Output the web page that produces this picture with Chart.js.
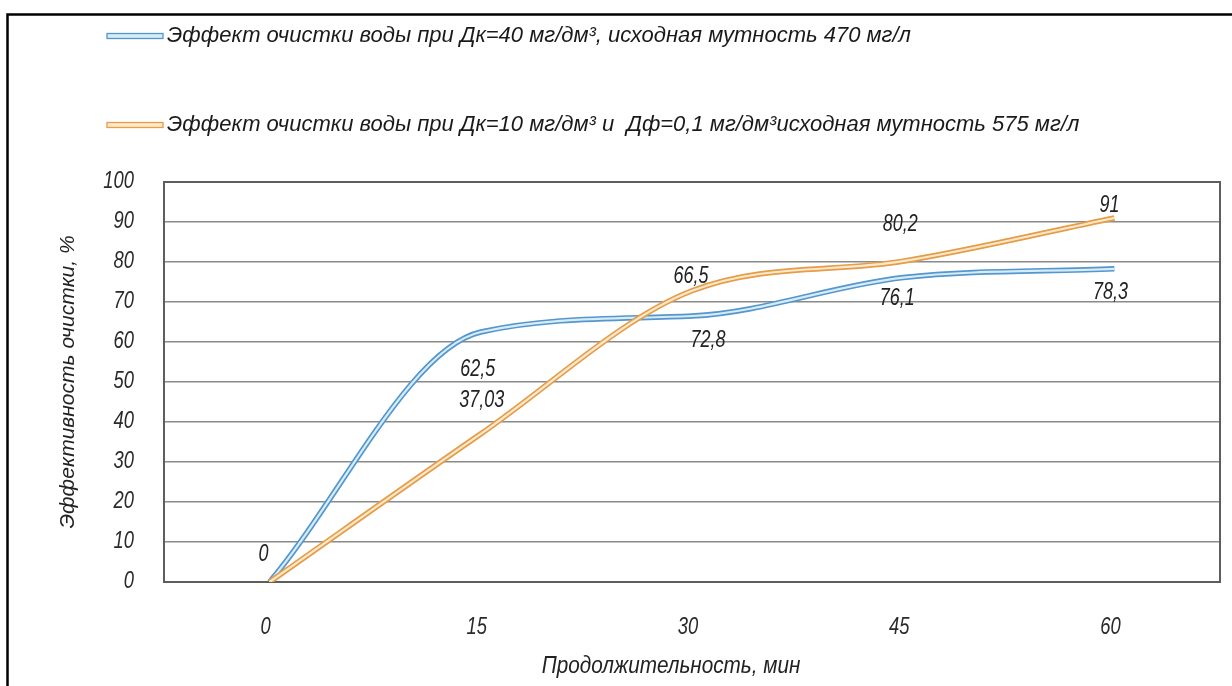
<!DOCTYPE html>
<html>
<head>
<meta charset="utf-8">
<script src="https://cdn.jsdelivr.net/npm/chart.js@4.4.1/dist/chart.umd.min.js"></script>
<style>
  html, body { margin: 0; padding: 0; background: #ffffff; }
  #wrap { width: 1232px; height: 686px; position: relative; }
</style>
</head>
<body>
<div id="wrap"><canvas id="chart" width="1232" height="686"></canvas></div>
<script>
// Duration of treatment, minutes (x categories)
const minutes = ['0', '15', '30', '45', '60'];
// Purification effect, % — coagulant only (Дк=40 мг/дм³)
const coagulantOnly = [0, 62.5, 66.5, 76.1, 78.3];
// Purification effect, % — coagulant + flocculant (Дк=10, Дф=0,1 мг/дм³)
const coagulantFlocculant = [0, 37.03, 72.8, 80.2, 91];
// y-axis range and step
const yMin = 0;
const yMax = 100;
const yTickStep = 10;
// Series names and axis titles
const seriesNames = [
  'Эффект очистки воды при Дк=40 мг/дм³, исходная мутность 470 мг/л',
  'Эффект очистки воды при Дк=10 мг/дм³ и  Дф=0,1 мг/дм³исходная мутность 575 мг/л'
];
const xTitle = 'Продолжительность, мин';
const yTitle = 'Эффективность очистки, %';

// ---- styling ----
const FONT = "'Liberation Sans', Arial, sans-serif";
const TEXT_COLOR = '#222222';
const seriesStyle = [
  { edge: '#5597cc', core: '#d6ecf8' },
  { edge: '#e49d48', core: '#fde8cc' }
];
// value-label placement relative to each point, px (null = no label)
const labelOffsets = [
  [[-6, -27], [-3, 38], [-1, -39], [-6, 21], [-4, 24]],
  [null, [1, -33], [16, 50], [-3, -37], [-5, -12]]
];
const legendRows = [36, 125];

const seriesValues = [coagulantOnly, coagulantFlocculant];

// Each series is a double line: a wide coloured stroke with a pale core drawn on top
const datasets = [];
seriesValues.forEach((vals, s) => {
  datasets.push({
    label: seriesNames[s], data: vals, role: 'main', series: s,
    borderColor: seriesStyle[s].edge, borderWidth: 5.5, pointRadius: 0,
    cubicInterpolationMode: 'monotone', fill: false, order: 4 - s * 2
  });
  datasets.push({
    label: seriesNames[s] + ' (core)', data: vals, role: 'core', series: s,
    borderColor: seriesStyle[s].core, borderWidth: 2.2, pointRadius: 0,
    cubicInterpolationMode: 'monotone', fill: false, order: 3 - s * 2
  });
});

const fmt = (v) => String(v).replace('.', ',');

// Narrow italic text: the regular face squeezed horizontally
function narrowText(ctx, text, x, y, factor) {
  const w = ctx.measureText(text).width;
  ctx.fillText(text, x, y, w * factor);
}

const framePlugin = {
  id: 'frame',
  beforeDatasetsDraw(chart) {
    const { ctx, chartArea: a } = chart;
    ctx.save();
    ctx.strokeStyle = '#5e5e5e';
    ctx.lineWidth = 2;
    ctx.strokeRect(a.left, a.top, a.right - a.left, a.bottom - a.top);
    ctx.restore();
  },
  afterDraw(chart) {
    const { ctx } = chart;
    ctx.save();
    ctx.strokeStyle = '#000000';
    ctx.lineWidth = 2.5;
    ctx.beginPath();
    ctx.moveTo(7.5, chart.height + 5);
    ctx.lineTo(7.5, 14.5);
    ctx.lineTo(chart.width + 5, 14.5);
    ctx.stroke();
    ctx.restore();
  }
};

// Axis tick labels and the x title, in a narrow italic face
const axisTextPlugin = {
  id: 'axisText',
  afterDraw(chart) {
    const { ctx, scales: { x, y } } = chart;
    ctx.save();
    ctx.fillStyle = '#2a2a2a';
    ctx.font = 'italic 23px ' + FONT;
    ctx.textBaseline = 'middle';
    ctx.textAlign = 'right';
    y.ticks.forEach((t) => {
      narrowText(ctx, String(t.value), 134, y.getPixelForValue(t.value), 0.8);
    });
    ctx.textAlign = 'center';
    x.ticks.forEach((t, i) => {
      narrowText(ctx, x.getLabelForValue(t.value), x.getPixelForTick(i) - 4, 628, 0.8);
    });
    ctx.fillStyle = TEXT_COLOR;
    narrowText(ctx, xTitle, 671, 667, 0.9);
    ctx.restore();
  }
};

const valueLabelPlugin = {
  id: 'valueLabels',
  afterDatasetsDraw(chart) {
    const { ctx } = chart;
    ctx.save();
    ctx.font = 'italic 23px ' + FONT;
    ctx.fillStyle = TEXT_COLOR;
    ctx.textAlign = 'center';
    ctx.textBaseline = 'middle';
    chart.data.datasets.forEach((ds, i) => {
      if (ds.role !== 'main') return;
      chart.getDatasetMeta(i).data.forEach((pt, j) => {
        const off = labelOffsets[ds.series][j];
        if (!off) return;
        narrowText(ctx, fmt(ds.data[j]), pt.x + off[0], pt.y + off[1], 0.78);
      });
    });
    ctx.restore();
  }
};

const legendPlugin = {
  id: 'doubleLineLegend',
  afterDraw(chart) {
    const { ctx } = chart;
    ctx.save();
    seriesNames.forEach((name, s) => {
      const y = legendRows[s];
      ctx.fillStyle = seriesStyle[s].core;
      ctx.strokeStyle = seriesStyle[s].edge;
      ctx.lineWidth = 1.3;
      ctx.fillRect(107, y - 2.5, 56, 5);
      ctx.strokeRect(107, y - 2.5, 56, 5);
      ctx.font = 'italic 22px ' + FONT;
      ctx.fillStyle = '#1a1a1a';
      ctx.textAlign = 'left';
      ctx.textBaseline = 'middle';
      ctx.fillText(name, 167, y);
    });
    ctx.restore();
  }
};

new Chart(document.getElementById('chart'), {
  type: 'line',
  data: { labels: minutes, datasets },
  options: {
    responsive: false,
    animation: false,
    devicePixelRatio: 1,
    layout: { padding: { top: 182, right: 12, left: 0, bottom: 0 } },
    plugins: { legend: { display: false }, tooltip: { enabled: false } },
    scales: {
      x: {
        type: 'category', offset: true,
        afterFit: (s) => { s.height = 104; },
        grid: { display: false, drawTicks: false },
        border: { display: false },
        ticks: { display: false }
      },
      y: {
        min: yMin, max: yMax,
        afterFit: (s) => { s.width = 164; },
        grid: { color: '#8a8a8a', lineWidth: 1.5, drawTicks: false },
        border: { display: false },
        ticks: { display: false, stepSize: yTickStep },
        title: { display: true, text: yTitle, color: TEXT_COLOR,
                 font: { family: FONT, size: 21, style: 'italic' }, padding: { top: 56, bottom: 0 } }
      }
    }
  },
  plugins: [framePlugin, axisTextPlugin, valueLabelPlugin, legendPlugin]
});
</script>
</body>
</html>
